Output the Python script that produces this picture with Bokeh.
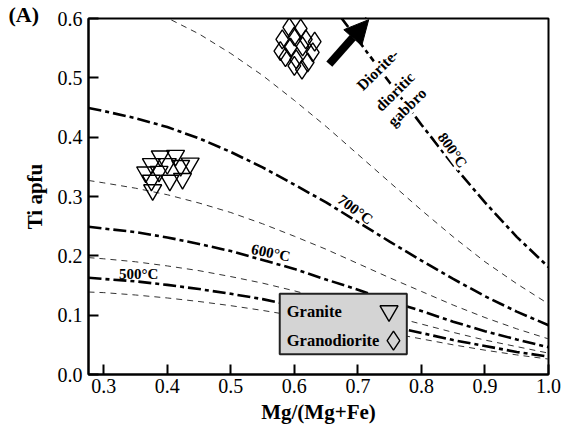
from bokeh.plotting import figure
from bokeh.models import (FixedTicker, PrintfTickFormatter, Label, Arrow, NormalHead,
                          Range1d)
from bokeh.core.properties import value
from bokeh.embed import file_html
from bokeh.resources import INLINE

SERIF = "Liberation Serif"

# ---------------- data ----------------
xmg = [0.276, 0.30, 0.35, 0.40, 0.45, 0.50, 0.55, 0.60, 0.65, 0.70, 0.75, 0.80, 0.85, 0.90, 0.95, 1.00]

# isotherms (thick dash-dot)
ti_500 = [0.163, 0.161, 0.157, 0.151, 0.144, 0.136, 0.127, 0.116, 0.105, 0.093, 0.082, 0.070, 0.058, 0.048, 0.038, 0.030]
ti_600 = [0.249, 0.246, 0.240, 0.231, 0.220, 0.208, 0.193, 0.178, 0.160, 0.143, 0.124, 0.107, 0.089, 0.073, 0.059, 0.046]
ti_700 = [0.449, 0.444, 0.432, 0.417, 0.398, 0.375, 0.349, 0.320, 0.290, 0.257, 0.224, 0.192, 0.161, 0.132, 0.106, 0.083]
xmg_800 = [0.60, 0.65, 0.70, 0.75, 0.80, 0.85, 0.90, 0.95, 1.00]
ti_800 = [0.703, 0.635, 0.564, 0.492, 0.421, 0.353, 0.290, 0.232, 0.181]

# intermediate curves (thin dashed)
ti_450 = [0.139, 0.138, 0.134, 0.129, 0.123, 0.116, 0.108, 0.099, 0.090, 0.080, 0.070, 0.060, 0.050, 0.041, 0.033, 0.026]
ti_550 = [0.197, 0.195, 0.190, 0.183, 0.175, 0.165, 0.154, 0.141, 0.127, 0.113, 0.099, 0.085, 0.071, 0.058, 0.047, 0.036]
ti_650 = [0.327, 0.323, 0.314, 0.303, 0.289, 0.273, 0.254, 0.233, 0.211, 0.187, 0.163, 0.140, 0.117, 0.096, 0.077, 0.060]
ti_750 = [0.647, 0.641, 0.623, 0.601, 0.574, 0.541, 0.504, 0.462, 0.418, 0.371, 0.324, 0.277, 0.232, 0.190, 0.153, 0.119]

# samples
granite_x = [0.389, 0.413, 0.375, 0.400, 0.436, 0.421, 0.366, 0.387, 0.404, 0.424, 0.375, 0.377]
granite_y = [0.368, 0.369, 0.355, 0.355, 0.356, 0.352, 0.341, 0.342, 0.327, 0.330, 0.327, 0.311]
grano_x = [0.592, 0.610, 0.581, 0.600, 0.618, 0.632, 0.578, 0.594, 0.613, 0.629, 0.586, 0.603, 0.621, 0.600, 0.612]
grano_y = [0.585, 0.583, 0.565, 0.570, 0.565, 0.561, 0.545, 0.551, 0.553, 0.543, 0.535, 0.531, 0.526, 0.520, 0.514]

xticks = [0.3, 0.4, 0.5, 0.6, 0.7, 0.8, 0.9, 1.0]
yticks = [0.0, 0.1, 0.2, 0.3, 0.4, 0.5, 0.6]
panel_tag = "(A)"

# ---------------- figure ----------------
p = figure(width=561, height=426, output_backend="svg", toolbar_location=None,
           x_range=Range1d(0.276, 1.0), y_range=Range1d(0.0, 0.6),
           min_border_left=88, min_border_right=13, min_border_top=18, min_border_bottom=49,
           title=panel_tag)
p.background_fill_color = "white"
p.border_fill_color = "white"
p.outline_line_color = "black"
p.outline_line_width = 2
p.grid.visible = False

# panel tag as a left-aligned title pulled to the canvas' left edge
p.title.align = "left"
p.title.offset = -80
p.title.text_font = SERIF
p.title.text_font_size = "22px"
p.title.text_font_style = "bold"
p.title.text_color = "black"
p.title.text_line_height = 0.8
try:
    p.title.standoff = -16
except Exception:
    p.title.standoff = 0

p.xaxis.ticker = FixedTicker(ticks=xticks)
p.yaxis.ticker = FixedTicker(ticks=yticks)
p.axis.formatter = PrintfTickFormatter(format="%.1f")
p.axis.major_tick_in = 10
p.axis.major_tick_out = 0
p.axis.minor_tick_line_color = None
p.axis.axis_line_width = 2
p.axis.major_tick_line_width = 2
p.axis.major_label_text_font = SERIF
p.axis.major_label_text_font_size = "20px"
p.axis.major_label_text_color = "black"
p.xaxis.major_label_standoff = 4
p.yaxis.major_label_standoff = 6
p.axis.axis_label_text_font = SERIF
p.axis.axis_label_text_font_size = "21px"
p.axis.axis_label_text_font_style = "bold"
p.axis.axis_label_text_color = "black"
p.xaxis.axis_label = "Mg/(Mg+Fe)"
p.yaxis.axis_label = "Ti apfu"
p.xaxis.axis_label_standoff = 4
p.yaxis.axis_label_standoff = 8

# curves
for ys in (ti_750, ti_650, ti_550, ti_450):
    p.line(xmg, ys, line_color="#333333", line_width=1, line_dash="6 5")
for xs, ys in ((xmg_800, ti_800), (xmg, ti_700), (xmg, ti_600), (xmg, ti_500)):
    p.line(xs, ys, line_color="black", line_width=2.6, line_dash="13 4 4 4")

# samples
p.scatter(granite_x, granite_y, marker="inverted_triangle", size=18,
          fill_color=None, line_color="black", line_width=1.4)
p.scatter(grano_x, grano_y, marker="diamond", size=19,
          fill_color=None, line_color="black", line_width=1.4)

# arrow
p.add_layout(Arrow(end=NormalHead(size=24, fill_color="black", line_color="black"),
                   x_start=0.655, y_start=0.523, x_end=0.717, y_end=0.598,
                   line_width=8, line_color="black"))

# text labels
def lab(x, y, t, ang, size="15px", bg=None):
    p.add_layout(Label(x=x, y=y, text=t, angle=ang, text_align="center",
                       text_baseline="middle", text_font=SERIF, text_font_size=size,
                       text_font_style="bold", text_color="black",
                       background_fill_color=bg))

lab(0.355, 0.170, "500°C", 0.0)
lab(0.563, 0.205, "600°C", -0.2)
lab(0.696, 0.278, "700°C", -0.64)
lab(0.849, 0.378, "800°C", -0.95, bg="white")
lab(0.731, 0.514, "Diorite-", 0.78, size="15.5px", bg="white")
lab(0.758, 0.477, "dioritic", 0.78, size="15.5px", bg="white")
lab(0.777, 0.451, "gabbro", 0.78, size="15.5px", bg="white")

# legend box (drawn as glyphs above the curves)
p.quad(left=[0.577], right=[0.777], bottom=[0.034], top=[0.136],
       fill_color="#d4d4d4", line_color="#222222", line_width=2)
p.text(x=[0.588, 0.588], y=[0.107, 0.057], text=["Granite", "Granodiorite"],
       text_font=value(SERIF), text_font_size="16.5px", text_font_style="bold",
       text_baseline="middle", text_align="left", text_color="black")
p.scatter([0.749], [0.107], marker="inverted_triangle", size=18,
          fill_color=None, line_color="black", line_width=1.4)
p.scatter([0.756], [0.057], marker="diamond", size=19,
          fill_color=None, line_color="black", line_width=1.4)

open("out.html", "w").write(file_html(p, INLINE))
